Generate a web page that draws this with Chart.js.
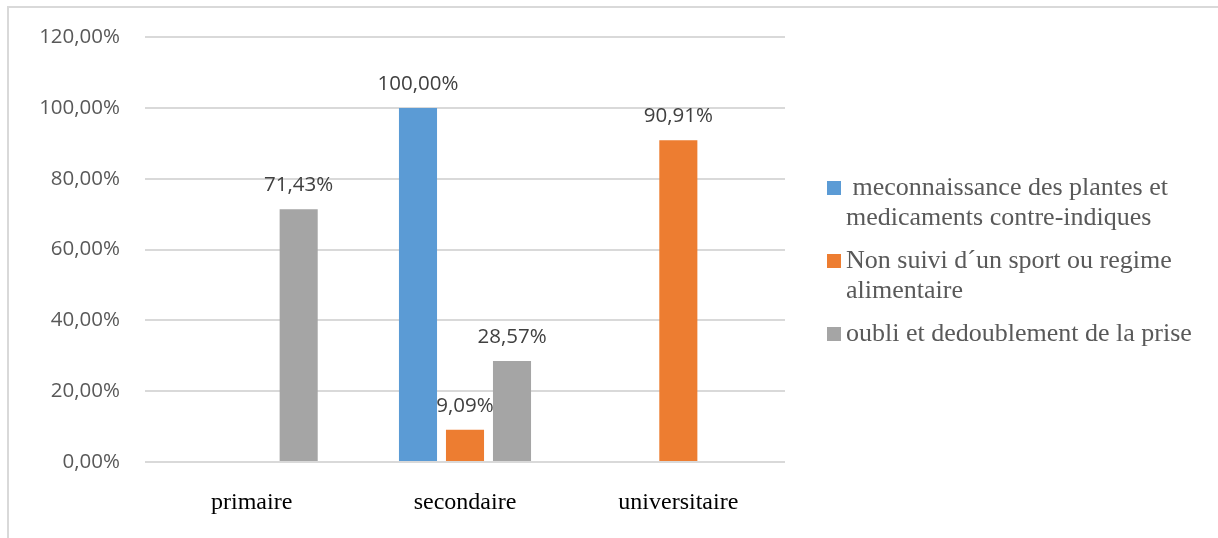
<!DOCTYPE html>
<html>
<head>
<meta charset="utf-8">
<script src="https://cdn.jsdelivr.net/npm/chart.js@4"></script>
<style>
  html, body { margin: 0; padding: 0; background: #fff; }
  #wrap { width: 1218px; height: 538px; position: relative; }
</style>
</head>
<body>
<div id="wrap"><canvas id="c" width="1218" height="538"></canvas></div>
<script>
// Niveau d'instruction
const categories = ['primaire', 'secondaire', 'universitaire'];

// Series names, split into the lines shown in the legend
const seriesNames = [
  [' meconnaissance des plantes et', 'medicaments contre-indiques'],
  ['Non suivi d\u00b4un sport ou regime', 'alimentaire'],
  ['oubli et dedoublement de la prise']
];

// Percentages per category (null = no bar)
const meconnaissance = [null, 100.00, null];
const nonSuiviSport = [null, 9.09, 90.91];
const oubliDedoublement = [71.43, 28.57, null];

const yTicks = [0, 20, 40, 60, 80, 100, 120];

const colors = ['#5b9bd5', '#ed7d31', '#a5a5a5'];

const fmt = v => v.toFixed(2).replace('.', ',') + '%';

const sansFont = '"Open Sans", "Liberation Sans", sans-serif';
const serifFont = '"Liberation Serif", "DejaVu Serif", serif';

// Outer frame of the chart
const framePlugin = {
  id: 'frame',
  beforeDraw(chart) {
    const ctx = chart.ctx;
    ctx.save();
    ctx.strokeStyle = '#d9d9d9';
    ctx.lineWidth = 2;
    ctx.strokeRect(8, 7, 2000, 2000);
    ctx.restore();
  }
};

// Value labels above each bar
const valueLabels = {
  id: 'valueLabels',
  afterDatasetsDraw(chart) {
    const ctx = chart.ctx;
    ctx.save();
    ctx.font = '20.5px ' + sansFont;
    ctx.fillStyle = '#404040';
    ctx.textAlign = 'center';
    ctx.textBaseline = 'middle';
    chart.data.datasets.forEach((ds, i) => {
      const meta = chart.getDatasetMeta(i);
      meta.data.forEach((bar, j) => {
        const v = ds.data[j];
        if (v === null || v === undefined) return;
        ctx.fillText(fmt(v), bar.x, bar.y - 24);
      });
    });
    ctx.restore();
  }
};

// Legend on the right with wrapped entries
const sideLegend = {
  id: 'sideLegend',
  afterDraw(chart) {
    const ctx = chart.ctx;
    const area = chart.chartArea;
    const boxX = area.right + 42;
    const textX = boxX + 19;
    const lineH = 30;
    const gap = 13;
    let y = 188;
    ctx.save();
    ctx.font = '26px ' + serifFont;
    ctx.textBaseline = 'middle';
    ctx.textAlign = 'left';
    seriesNames.forEach((lines, i) => {
      ctx.fillStyle = colors[i];
      ctx.fillRect(boxX, y - 7, 14, 14);
      ctx.fillStyle = '#595959';
      lines.forEach((ln, k) => ctx.fillText(ln, textX, y + k * lineH));
      y += lines.length * lineH + gap;
    });
    ctx.restore();
  }
};

new Chart(document.getElementById('c'), {
  type: 'bar',
  data: {
    labels: categories,
    datasets: [
      { label: seriesNames[0].join(' ').trim(), data: meconnaissance, backgroundColor: colors[0] },
      { label: seriesNames[1].join(' '), data: nonSuiviSport, backgroundColor: colors[1] },
      { label: seriesNames[2].join(' '), data: oubliDedoublement, backgroundColor: colors[2] }
    ]
  },
  options: {
    responsive: false,
    animation: false,
    events: [],
    layout: { padding: { left: 0, top: 36, right: 433, bottom: 0 } },
    datasets: {
      bar: { categoryPercentage: 0.661, barPercentage: 0.81, borderWidth: 0 }
    },
    plugins: {
      legend: { display: false },
      tooltip: { enabled: false }
    },
    scales: {
      x: {
        grid: { display: false, drawTicks: false },
        border: { display: false },
        ticks: {
          font: { family: serifFont, size: 24 },
          color: '#000000',
          padding: 26
        },
        afterFit(scale) { scale.height = 76; }
      },
      y: {
        min: 0,
        max: 120,
        afterBuildTicks(scale) { scale.ticks = yTicks.map(v => ({ value: v })); },
        grid: { color: '#d9d9d9', lineWidth: 2, drawTicks: false },
        border: { display: false },
        ticks: {
          font: { family: sansFont, size: 20.5 },
          color: '#595959',
          padding: 25,
          callback: v => fmt(v)
        },
        afterFit(scale) { scale.width = 145; }
      }
    }
  },
  plugins: [framePlugin, valueLabels, sideLegend]
});
</script>
</body>
</html>
